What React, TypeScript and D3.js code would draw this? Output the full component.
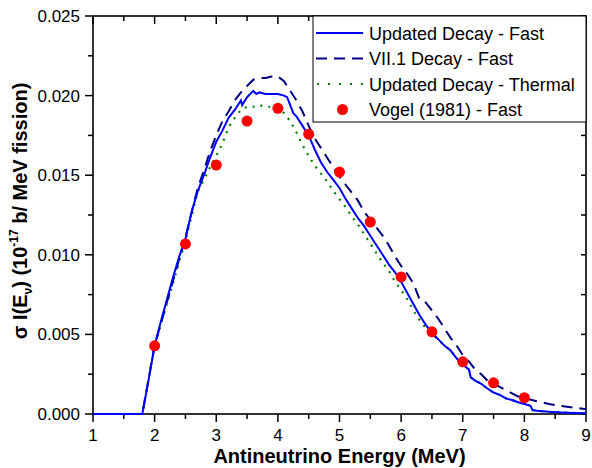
import React from "react";
import * as d3 from "d3";

// Updated Decay - Fast (blue solid)
const updatedFastE = [1.0, 1.8, 1.9, 2.0, 2.1, 2.2, 2.3, 2.4, 2.5, 2.6, 2.7, 2.8, 2.9, 3.0, 3.1, 3.2, 3.3, 3.4, 3.42, 3.5, 3.6, 3.65, 3.7, 3.8, 3.9, 4.0, 4.1, 4.15, 4.2, 4.25, 4.3, 4.4, 4.5, 4.6, 4.7, 4.8, 4.9, 5.0, 5.1, 5.2, 5.3, 5.4, 5.5, 5.6, 5.7, 5.8, 5.9, 6.0, 6.1, 6.2, 6.3, 6.4, 6.5, 6.6, 6.7, 6.8, 6.9, 7.0, 7.1, 7.13, 7.2, 7.3, 7.4, 7.5, 7.6, 7.7, 7.8, 7.9, 8.0, 8.1, 8.13, 8.2, 8.4, 8.6, 8.8, 9.0];
const updatedFastV = [0, 0, 0.0021, 0.0043, 0.0058, 0.0072, 0.0086, 0.0099, 0.0110, 0.0127, 0.0140, 0.0150, 0.0161, 0.0171, 0.0178, 0.0186, 0.0191, 0.0197, 0.0194, 0.0199, 0.0203, 0.0201, 0.0202, 0.0201, 0.0201, 0.0201, 0.0200, 0.0199, 0.0194, 0.0189, 0.0187, 0.0181, 0.0175, 0.0166, 0.0158, 0.0152, 0.0147, 0.0142, 0.0135, 0.0129, 0.0123, 0.0118, 0.0112, 0.0106, 0.0100, 0.0094, 0.0089, 0.0083, 0.0076, 0.0069, 0.0062, 0.0056, 0.0051, 0.0047, 0.0043, 0.0040, 0.0035, 0.0031, 0.0028, 0.0023, 0.0021, 0.0019, 0.0016, 0.00135, 0.0012, 0.00098, 0.00088, 0.00074, 0.00063, 0.00052, 0.00025, 0.0002, 0.00014, 0.0001, 0.00007, 0.00004];

// VII.1 Decay - Fast (navy dashed)
const vii1FastE = [1.0, 1.8, 2.0, 2.5, 2.7, 2.8, 2.9, 3.0, 3.1, 3.2, 3.3, 3.4, 3.5, 3.6, 3.7, 3.8, 3.9, 4.0, 4.1, 4.2, 4.3, 4.4, 4.5, 4.6, 4.7, 4.8, 4.9, 5.0, 5.1, 5.2, 5.3, 5.4, 5.5, 5.6, 5.7, 5.8, 5.9, 6.0, 6.1, 6.2, 6.3, 6.4, 6.5, 6.6, 6.7, 6.8, 6.9, 7.0, 7.1, 7.2, 7.3, 7.4, 7.5, 7.6, 7.7, 7.8, 7.9, 8.0, 8.2, 8.4, 8.6, 8.8, 9.0];
const vii1FastV = [0, 0, 0.0043, 0.0111, 0.0142, 0.0153, 0.0165, 0.0175, 0.0184, 0.0190, 0.0197, 0.0202, 0.0206, 0.0210, 0.0211, 0.0211, 0.0212, 0.0212, 0.0209, 0.0203, 0.0197, 0.0190, 0.0181, 0.0173, 0.0167, 0.0161, 0.0155, 0.0149, 0.0144, 0.0139, 0.0134, 0.0127, 0.0122, 0.0117, 0.0112, 0.0106, 0.0099, 0.0093, 0.0088, 0.0082, 0.0072, 0.0070, 0.0065, 0.0060, 0.0054, 0.0048, 0.0043, 0.0037, 0.0033, 0.0028, 0.0025, 0.0021, 0.0019, 0.0017, 0.0015, 0.0013, 0.0011, 0.0010, 0.0008, 0.00063, 0.0005, 0.0004, 0.0003];

// Updated Decay - Thermal (green dotted)
const updatedThermalE = [1.0, 1.8, 2.0, 2.5, 2.7, 2.8, 2.9, 3.0, 3.1, 3.2, 3.3, 3.4, 3.5, 3.6, 3.7, 3.8, 3.9, 4.0, 4.1, 4.2, 4.3, 4.4, 4.5, 4.6, 4.7, 4.8, 4.9, 5.0, 5.1, 5.2, 5.3, 5.4, 5.5, 5.6, 5.7, 5.8, 5.9, 6.0, 6.1, 6.2, 6.3, 6.4, 6.5, 6.6, 6.7, 6.8, 6.9, 7.0, 7.1, 7.13, 7.2, 7.3, 7.4, 7.5, 7.6, 7.7, 7.8, 7.9, 8.0, 8.1, 8.13, 8.2, 8.4, 8.6, 8.8, 9.0];
const updatedThermalV = [0, 0, 0.0043, 0.0109, 0.0140, 0.0147, 0.0155, 0.0162, 0.0170, 0.0180, 0.0186, 0.0191, 0.0193, 0.0193, 0.0194, 0.0193, 0.0193, 0.0192, 0.0189, 0.0184, 0.0177, 0.0169, 0.0162, 0.0156, 0.0151, 0.0146, 0.0140, 0.0135, 0.0130, 0.0124, 0.0119, 0.0113, 0.0107, 0.0101, 0.0095, 0.0090, 0.0083, 0.0078, 0.0072, 0.0065, 0.0059, 0.0054, 0.0050, 0.0047, 0.0043, 0.0040, 0.0035, 0.0031, 0.0028, 0.0023, 0.0021, 0.0019, 0.0016, 0.00135, 0.0012, 0.00098, 0.00088, 0.00074, 0.00063, 0.00052, 0.00025, 0.0002, 0.00014, 0.0001, 0.00007, 0.00004];

// Vogel (1981) - Fast (red points)
const vogelE = [2.0, 2.5, 3.0, 3.5, 4.0, 4.5, 5.0, 5.5, 6.0, 6.5, 7.0, 7.5, 8.0];
const vogelV = [0.00428, 0.01068, 0.01564, 0.0184, 0.0192, 0.01758, 0.0152, 0.01206, 0.00861, 0.00516, 0.00328, 0.00196, 0.00102];

const xTicks = [1, 2, 3, 4, 5, 6, 7, 8, 9];
const yTicks = [0, 0.005, 0.01, 0.015, 0.02, 0.025];

const legendLabels = ["Updated Decay - Fast", "VII.1 Decay - Fast", "Updated Decay - Thermal", "Vogel (1981) - Fast"];

const W = 592, H = 468;
const L = 93, R = 586, T = 16, B = 414;
const FONT = "Arial, 'Liberation Sans', Helvetica, sans-serif";

export default function App() {
  const x = d3.scaleLinear().domain([1, 9]).range([L, R]);
  const y = d3.scaleLinear().domain([0, 0.025]).range([B, T]);
  const line = d3.line<[number, number]>().x(d => x(d[0])).y(d => y(d[1]));

  const zip = (a: number[], b: number[]) => a.map((e, i) => [e, b[i]] as [number, number]);

  const xMinor = d3.range(1.5, 9, 1);
  const yMinor = d3.range(0.0025, 0.025, 0.005);

  const legX1 = 316, legX2 = 363, legTX = 369;
  const legRows = [33, 58.5, 84, 109.5];

  return (
    <svg width={W} height={H} style={{ position: "absolute", left: 0, top: 0, background: "#fff" }} fontFamily={FONT}>
      <rect x={0} y={0} width={W} height={H} fill="#fff" />

      {/* frame */}
      <rect x={L} y={T} width={R - L} height={B - T} fill="none" stroke="#000" strokeWidth={1.6} />

      {/* ticks */}
      {xTicks.map(t => (
        <g key={"xb" + t}>
          <line x1={x(t)} x2={x(t)} y1={B} y2={B + 8} stroke="#000" strokeWidth={1.5} />
          <line x1={x(t)} x2={x(t)} y1={T} y2={T + 8} stroke="#000" strokeWidth={1.5} />
          <text x={x(t)} y={441} textAnchor="middle" fontSize={17}>{t}</text>
        </g>
      ))}
      {xMinor.map(t => (
        <g key={"xm" + t}>
          <line x1={x(t)} x2={x(t)} y1={B} y2={B + 5} stroke="#000" strokeWidth={1.5} />
          <line x1={x(t)} x2={x(t)} y1={T} y2={T + 5} stroke="#000" strokeWidth={1.5} />
        </g>
      ))}
      {yTicks.map(t => (
        <g key={"yl" + t}>
          <line x1={L - 8} x2={L} y1={y(t)} y2={y(t)} stroke="#000" strokeWidth={1.5} />
          <line x1={R - 5} x2={R} y1={y(t)} y2={y(t)} stroke="#000" strokeWidth={1.5} />
          <text x={80} y={y(t) + 6} textAnchor="end" fontSize={17}>{d3.format(".3f")(t)}</text>
        </g>
      ))}
      {yMinor.map(t => (
        <g key={"ym" + t}>
          <line x1={L - 5} x2={L} y1={y(t)} y2={y(t)} stroke="#000" strokeWidth={1.5} />
          <line x1={R - 5} x2={R} y1={y(t)} y2={y(t)} stroke="#000" strokeWidth={1.5} />
        </g>
      ))}

      {/* data */}
      <path d={line(zip(updatedThermalE, updatedThermalV)) || ""} fill="none" stroke="#008000" strokeWidth={2.2} strokeDasharray="2 6" />
      <path d={line(zip(vii1FastE, vii1FastV)) || ""} fill="none" stroke="#000080" strokeWidth={2} strokeDasharray="11 7" />
      <path d={line(zip(updatedFastE, updatedFastV)) || ""} fill="none" stroke="#0000ff" strokeWidth={2} />
      {vogelE.map((e, i) => (
        <circle key={i} cx={x(e)} cy={y(vogelV[i])} r={5.5} fill="#ff0000" />
      ))}

      {/* axis titles */}
      <text x={(L + R) / 2} y={463} textAnchor="middle" fontSize={20} fontWeight="bold">Antineutrino Energy (MeV)</text>
      <text transform={`translate(27, ${(T + B) / 2 - 4}) rotate(-90)`} textAnchor="middle" fontSize={20} fontWeight="bold">
        σ I(E<tspan fontSize={12} dy={5}>ν</tspan><tspan dy={-5}>) (10</tspan><tspan fontSize={12} dy={-9}>-17</tspan><tspan dy={9}> b/ MeV fission)</tspan>
      </text>

      {/* legend */}
      <rect x={313} y={T} width={R - 313} height={122 - T} fill="#fff" stroke="#000" strokeWidth={1} />
      <line x1={legX1} x2={legX2} y1={legRows[0]} y2={legRows[0]} stroke="#0000ff" strokeWidth={2} />
      <line x1={legX1} x2={legX2} y1={legRows[1]} y2={legRows[1]} stroke="#000080" strokeWidth={2} strokeDasharray="11 7" />
      <line x1={legX1 + 1} x2={legX2} y1={legRows[2]} y2={legRows[2]} stroke="#008000" strokeWidth={2.2} strokeDasharray="2 9" />
      <circle cx={(legX1 + legX2) / 2 + 3} cy={legRows[3]} r={5.5} fill="#ff0000" />
      {legendLabels.map((lab, i) => (
        <text key={lab} x={legTX} y={legRows[i] + 6.5} fontSize={18}>{lab}</text>
      ))}
    </svg>
  );
}
